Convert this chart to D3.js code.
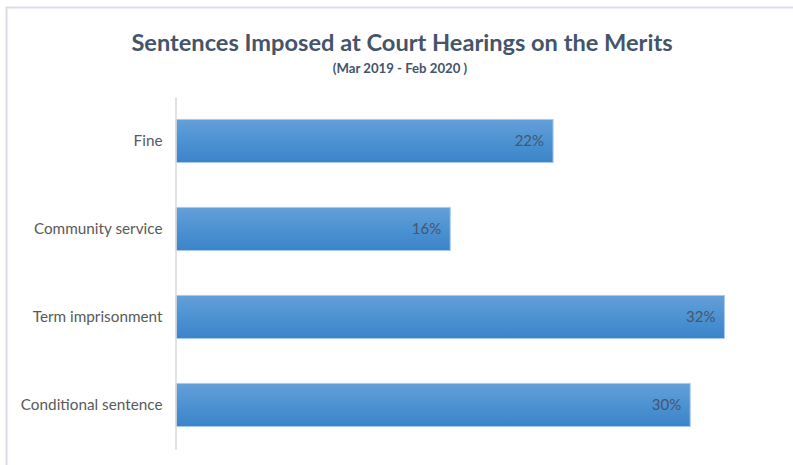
<!DOCTYPE html>
<html>
<head>
<meta charset="utf-8">
<script src="https://cdn.jsdelivr.net/npm/d3@7"></script>
<style>
  html, body { margin: 0; padding: 0; background: #fff; }
  svg { display: block; }
</style>
</head>
<body>
<svg id="chart" width="793" height="465"></svg>
<script>
// Sentence categories, top to bottom, and their shares
const categories = ["Fine", "Community service", "Term imprisonment", "Conditional sentence"];
const shares = [0.22, 0.16, 0.32, 0.30];
const valueLabels = ["22%", "16%", "32%", "30%"];

const titleText = "Sentences Imposed at Court Hearings on the Merits";
const subtitleText = "(Mar 2019 - Feb 2020 )";

const W = 793, H = 465;
const svg = d3.select("#chart");
const font = "Lato, 'Open Sans', 'DejaVu Sans', sans-serif";

// Outer chart frame (top and left edges visible)
svg.append("path")
  .attr("d", `M6.5,${H} V7.5 H${W}`)
  .attr("fill", "none")
  .attr("stroke", "#d9dee4")
  .attr("stroke-width", 2);

const x = d3.scaleLinear().domain([0, 0.35]).range([176, 176 + 0.35 * 1714]);
const y = d3.scaleBand().domain(categories).range([97, 449]).paddingInner(0.51).paddingOuter(0.255);

// Vertical gradient for the bars
const defs = svg.append("defs");
const grad = defs.append("linearGradient").attr("id", "barGrad")
  .attr("x1", 0).attr("y1", 0).attr("x2", 0).attr("y2", 1);
grad.append("stop").attr("offset", "0%").attr("stop-color", "#649fd8");
grad.append("stop").attr("offset", "55%").attr("stop-color", "#4a91d2");
grad.append("stop").attr("offset", "100%").attr("stop-color", "#3b84c8");

// Title and subtitle
svg.append("text")
  .attr("x", 402).attr("y", 51)
  .attr("text-anchor", "middle")
  .attr("font-family", font)
  .attr("font-weight", "bold")
  .attr("font-size", 23.6)
  .attr("fill", "#44546a")
  .text(titleText);

svg.append("text")
  .attr("x", 400).attr("y", 73)
  .attr("text-anchor", "middle")
  .attr("font-family", font)
  .attr("font-weight", "bold")
  .attr("font-size", 13.2)
  .attr("fill", "#44546a")
  .text(subtitleText);

// Bars
const rows = categories.map((c, i) => ({ cat: c, v: shares[i], label: valueLabels[i] }));

svg.append("g").selectAll("rect")
  .data(rows)
  .join("rect")
  .attr("x", x(0))
  .attr("y", d => y(d.cat))
  .attr("width", d => x(d.v) - x(0))
  .attr("height", y.bandwidth())
  .attr("fill", "url(#barGrad)")
  .attr("stroke", "#a9cbeb")
  .attr("stroke-width", 1);

// Value labels inside bar ends
svg.append("g").selectAll("text")
  .data(rows)
  .join("text")
  .attr("x", d => x(d.v) - 9)
  .attr("y", d => y(d.cat) + y.bandwidth() / 2 + 5)
  .attr("text-anchor", "end")
  .attr("font-family", font)
  .attr("font-size", 15)
  .attr("fill", "#46566c")
  .text(d => d.label);

// Category axis
const axis = d3.axisLeft(y).tickSize(0).tickPadding(13);
const gAxis = svg.append("g")
  .attr("transform", `translate(${x(0) - 0.5},0)`)
  .call(axis);
gAxis.select(".domain")
  .attr("stroke", "#d9d9d9")
  .attr("stroke-width", 1.5);
gAxis.selectAll("text")
  .attr("font-family", font)
  .attr("font-size", 15.3)
  .attr("fill", "#595959");
</script>
</body>
</html>
